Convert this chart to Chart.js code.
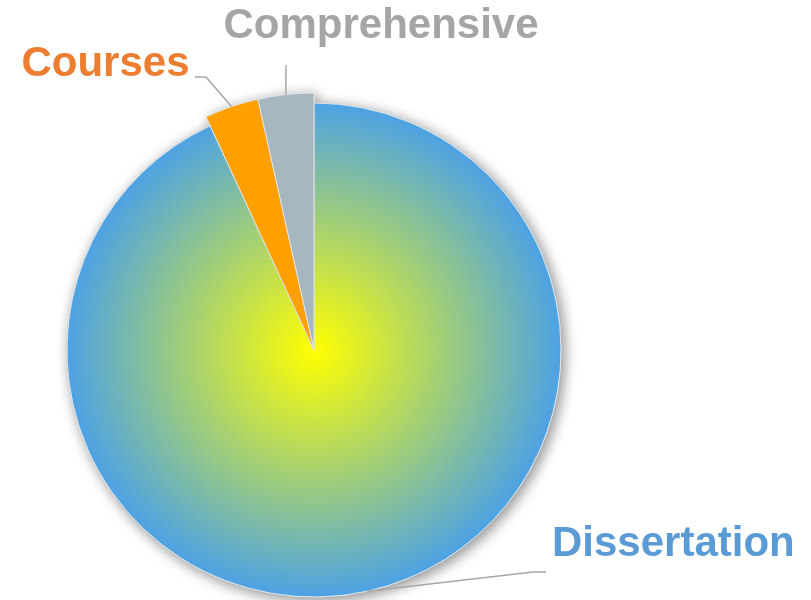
<!DOCTYPE html>
<html>
<head>
<meta charset="utf-8">
<script src="https://cdn.jsdelivr.net/npm/chart.js@4.4.1/dist/chart.umd.min.js"></script>
<style>
  html, body { margin: 0; padding: 0; background: #ffffff; }
  #wrap { width: 811px; height: 600px; position: relative; }
</style>
</head>
<body>
<div id="wrap"><canvas id="c" width="811" height="600"></canvas></div>
<script>
// Time split of the doctoral programme
const categories = ['Dissertation', 'Courses', 'Comprehensive'];
const shares = [93.1, 3.4, 3.5];

// Styling
const sliceColors = ['#4da2e4', '#ff9f00', '#a7b7c0'];
const labelColors = ['#5b9bd5', '#ed7d31', '#a5a5a5'];
const sliceRadii = [247, 257, 257];
const leaderColor = '#a6a6a6';
const labelFont = 'bold 42px "Liberation Sans", Arial, sans-serif';

// Label placement: text anchor point + the bend of each leader line
const labelLayout = [
  { x: 552, y: 556, align: 'left',   path: [[533, 572], [546, 572]] },
  { x: 189.5, y: 76, align: 'right', path: [[206, 77], [195, 77]] },
  { x: 381, y: 38, align: 'center',  path: [[286, 65]] }
];

function sliceFill(ctx) {
  const i = ctx.dataIndex;
  if (i !== 0) return sliceColors[i];
  const a = ctx.chart.chartArea;
  if (!a) return sliceColors[0];
  const cx = (a.left + a.right) / 2;
  const cy = (a.top + a.bottom) / 2;
  const g = ctx.chart.ctx.createRadialGradient(cx, cy, 0, cx, cy, sliceRadii[0]);
  g.addColorStop(0, '#ffff00');
  g.addColorStop(1, sliceColors[0]);
  return g;
}

const sliceShape = {
  id: 'sliceShape',
  afterDatasetUpdate(chart, args) {
    args.meta.data.forEach((arc, i) => { arc.outerRadius = sliceRadii[i]; });
  },
  beforeDatasetDraw(chart, args) {
    // soft drop shadow under the whole pie
    const ctx = chart.ctx;
    ctx.save();
    ctx.shadowColor = 'rgba(0,0,0,0.45)';
    ctx.shadowBlur = 14;
    ctx.shadowOffsetX = 3;
    ctx.shadowOffsetY = 3;
    args.meta.data.forEach(arc => arc.draw(ctx));
    ctx.restore();
  },
  afterDraw(chart) {
    const ctx = chart.ctx;
    const meta = chart.getDatasetMeta(0);
    ctx.save();
    meta.data.forEach((arc, i) => {
      const mid = (arc.startAngle + arc.endAngle) / 2;
      const ax = arc.x + Math.cos(mid) * arc.outerRadius;
      const ay = arc.y + Math.sin(mid) * arc.outerRadius;
      const lay = labelLayout[i];
      ctx.beginPath();
      ctx.moveTo(ax, ay);
      lay.path.forEach(p => ctx.lineTo(p[0], p[1]));
      ctx.strokeStyle = leaderColor;
      ctx.lineWidth = 1.5;
      ctx.stroke();
      ctx.font = labelFont;
      ctx.fillStyle = labelColors[i];
      ctx.textAlign = lay.align;
      ctx.textBaseline = 'alphabetic';
      ctx.fillText(categories[i], lay.x, lay.y);
    });
    ctx.restore();
  }
};

new Chart(document.getElementById('c'), {
  type: 'pie',
  data: {
    labels: categories,
    datasets: [{
      data: shares,
      backgroundColor: sliceFill,
      borderColor: '#dfe4e7',
      borderWidth: 1,
      clip: false
    }]
  },
  options: {
    responsive: false,
    devicePixelRatio: 1,
    animation: false,
    radius: 257,
    layout: { padding: { left: 0, right: 183, top: 100, bottom: 0 } },
    plugins: {
      legend: { display: false },
      tooltip: { enabled: false }
    }
  },
  plugins: [sliceShape]
});
</script>
</body>
</html>
